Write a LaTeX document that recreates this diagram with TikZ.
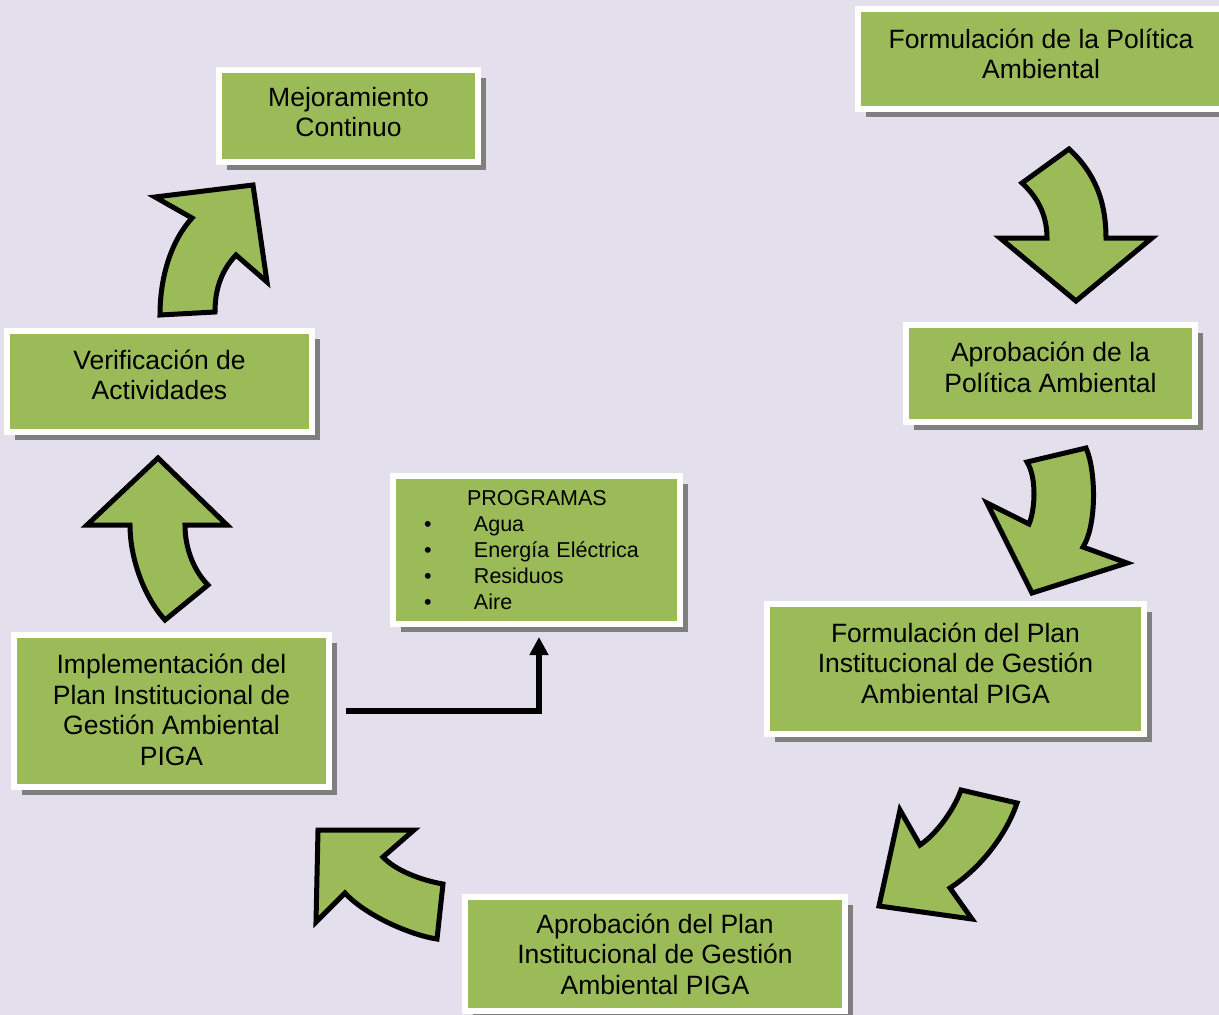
\documentclass[tikz,border=0pt]{standalone}
\usepackage{fontspec}
\setmainfont{Liberation Sans}
\usetikzlibrary{shadows,arrows.meta}
\definecolor{boxgreen}{HTML}{9BBB59}
\definecolor{shadowgray}{HTML}{7F7F7F}
\definecolor{pagebg}{HTML}{E4DFEC}
\tikzset{
  stage/.style={rectangle, fill=boxgreen, draw=white, line width=6pt,
    inner sep=0pt, align=center, font=\fontsize{26.5}{30.5}\selectfont,
    drop shadow={shadow xshift=8pt, shadow yshift=-8pt, fill=shadowgray, opacity=1}},
  % raise the text block inside a box by #1
  lift/.style={text depth=2*#1},
  bigarrow/.style={fill=boxgreen, draw=black, line width=5pt, line join=miter, miter limit=10},
  link/.style={draw=black, line width=5.5pt, -{Triangle[width=18pt,length=18pt]}}
}
\begin{document}
\begin{tikzpicture}[x=1pt, y=-1pt]
  \clip (0,0) rectangle (1219,1015);
  \fill[pagebg] (0,0) rectangle (1219,1015);

  % process stages
  \node[stage, lift=5.5pt, minimum width=366pt, minimum height=100pt] (polform) at (1041,59)
    {Formulación de la Política\\Ambiental};
  \node[stage, lift=6.5pt, minimum width=289pt, minimum height=97pt] (polapr) at (1050.5,373.5)
    {Aprobación de la\\Política Ambiental};
  \node[stage, lift=6pt, minimum width=377pt, minimum height=130pt] (planform) at (955.5,669)
    {Formulación del Plan\\Institucional de Gestión\\Ambiental PIGA};
  \node[stage, minimum width=380pt, minimum height=114pt] (planapr) at (655,954)
    {Aprobación del Plan\\Institucional de Gestión\\Ambiental PIGA};
  \node[stage, lift=1.5pt, minimum width=315pt, minimum height=152pt] (impl) at (171.5,711)
    {Implementación del\\Plan Institucional de\\Gestión Ambiental\\PIGA};
  \node[stage, lift=7pt, minimum width=305pt, minimum height=101pt] (verif) at (159.5,381.5)
    {Verificación de\\Actividades};
  \node[stage, lift=4pt, minimum width=259pt, minimum height=92pt] (mejora) at (348.5,116)
    {Mejoramiento\\Continuo};

  % programme list
  \node[stage, align=left, text width=287pt, minimum height=148pt,
        font=\fontsize{21.5}{26}\selectfont] (prog) at (536.5,550)
    {\hspace*{74pt}PROGRAMAS\\
     \hspace*{31pt}\makebox[50pt][l]{\textbullet}Agua\\
     \hspace*{31pt}\makebox[50pt][l]{\textbullet}Energía Eléctrica\\
     \hspace*{31pt}\makebox[50pt][l]{\textbullet}Residuos\\
     \hspace*{31pt}\makebox[50pt][l]{\textbullet}Aire};

  \draw[link] ([xshift=14pt]impl.east) -| ([xshift=2.5pt,yshift=-10pt]prog.south);

  % curved block arrows of the cycle
  \draw[bigarrow] (1069,149) -- (1022,183) .. controls (1035,195) and (1047,212) .. (1047,238)
    -- (1000,238) -- (1076,301) -- (1152,238) -- (1106,238)
    .. controls (1106,200) and (1094,172) .. (1069,149) -- cycle;
  \draw[bigarrow] (1027,462) -- (1086,448) .. controls (1096,470) and (1097,525) .. (1083,547)
    -- (1127,563) -- (1032,593) -- (987,503) -- (1029,524)
    .. controls (1035,510) and (1037,478) .. (1027,462) -- cycle;
  \draw[bigarrow] (961,790) -- (1017,803) .. controls (1008,830) and (985,865) .. (950,888)
    -- (972,919) -- (879,906) -- (900,810) -- (920,845)
    .. controls (935,835) and (953,812) .. (961,790) -- cycle;
  \draw[bigarrow] (318,830) -- (414,830) -- (383,857) .. controls (395,870) and (420,880) .. (443,884)
    -- (437,939) .. controls (410,935) and (365,915) .. (345,893) -- (316,922) -- cycle;
  \draw[bigarrow] (158,458) -- (227,525) -- (185,525) .. controls (185,550) and (195,572) .. (208,585)
    -- (165,620) .. controls (145,598) and (130,560) .. (130,525) -- (87,525) -- cycle;
  \draw[bigarrow] (160,315) -- (215,312) .. controls (215,288) and (222,270) .. (236,255)
    -- (267,282) -- (253,185) -- (155,197) -- (192,218)
    .. controls (172,240) and (160,275) .. (160,315) -- cycle;
\end{tikzpicture}
\end{document}
